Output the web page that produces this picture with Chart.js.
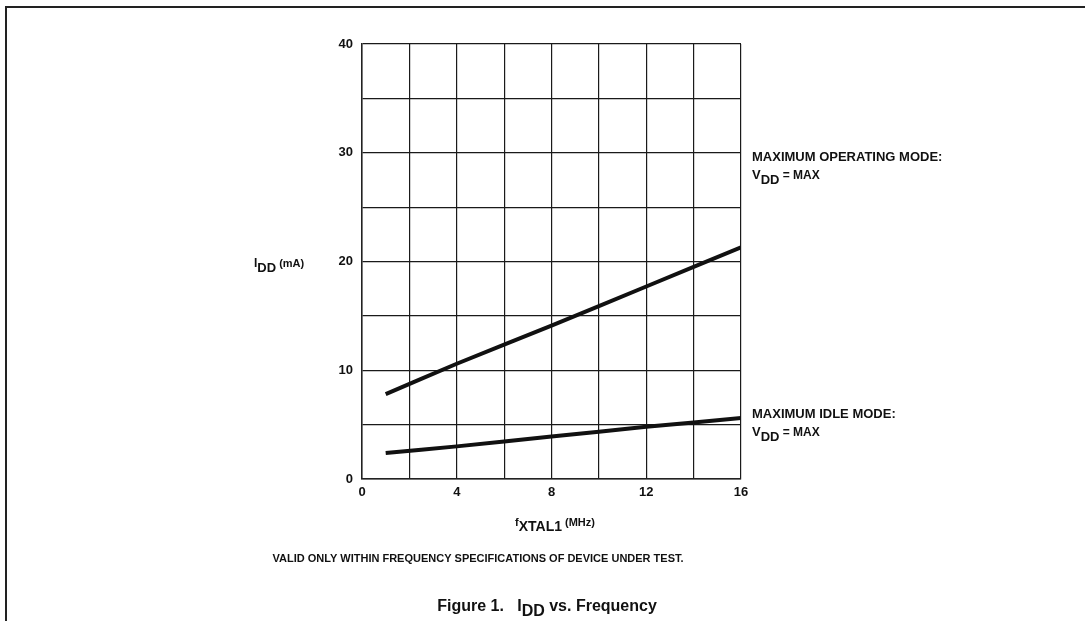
<!DOCTYPE html>
<html>
<head>
<meta charset="utf-8">
<title>IDD vs. Frequency</title>
<script src="https://cdn.jsdelivr.net/npm/chart.js@4.4.1/dist/chart.umd.min.js"></script>
<style>
  html, body { margin: 0; padding: 0; background: #fff; }
  #wrap { width: 1085px; height: 621px; position: relative; }
</style>
</head>
<body>
<div id="wrap"><canvas id="grafico"></canvas></div>
<script>
// datos (f en MHz, I en mA)
const frecuencias = [1, 4, 8, 12, 16];
const operacionMax = [7.8, 10.6, 14.1, 17.7, 21.3];
const reposoMax = [2.4, 3.0, 3.9, 4.8, 5.6];
const ticksX = [0, 4, 8, 12, 16];
const ticksY = [0, 10, 20, 30, 40];

const fuente = '"Liberation Sans", Arial, Helvetica, sans-serif';
const tinta = '#111';

function puntos(ys) {
    return frecuencias.map((x, i) => ({ x: x, y: ys[i] }));
}

// texto con subindice: partes = [[texto, sub?, size], ...]
function textoSub(ctx, partes, x, y, align) {
    let ancho = 0;
    partes.forEach(p => {
        ctx.font = 'bold ' + p[2] + 'px ' + fuente;
        ancho += ctx.measureText(p[0]).width;
    });
    let cx = align === 'center' ? x - ancho / 2 : x;
    ctx.textAlign = 'left';
    ctx.textBaseline = 'alphabetic';
    partes.forEach(p => {
        ctx.font = 'bold ' + p[2] + 'px ' + fuente;
        ctx.fillText(p[0], cx, y + (p[1] ? 5 : 0));
        cx += ctx.measureText(p[0]).width;
    });
}

const textos = {
    id: 'textos',
    afterDraw(chart) {
        const ctx = chart.ctx;
        const sx = chart.scales.x, sy = chart.scales.y;
        ctx.save();
        ctx.fillStyle = tinta;

        // marco de la pagina
        ctx.strokeStyle = '#222';
        ctx.lineWidth = 2;
        ctx.beginPath();
        ctx.moveTo(6, 621);
        ctx.lineTo(6, 7);
        ctx.lineTo(1085, 7);
        ctx.stroke();

        // etiquetas de las curvas
        const xa = sx.right + 11;
        textoSub(ctx, [['MAXIMUM OPERATING MODE:', false, 13]], xa, sy.getPixelForValue(29.2));
        textoSub(ctx, [['V', false, 13], ['DD', true, 13], [' = MAX', false, 12]], xa, sy.getPixelForValue(27.6));
        textoSub(ctx, [['MAXIMUM IDLE MODE:', false, 13]], xa, sy.getPixelForValue(5.6));
        textoSub(ctx, [['V', false, 13], ['DD', true, 13], [' = MAX', false, 12]], xa, sy.getPixelForValue(4.0));

        // titulos de ejes
        textoSub(ctx, [['I', false, 12], ['DD', true, 13], [' (mA)', false, 11]], 254, 267);
        textoSub(ctx, [['f', false, 11], ['XTAL1', true, 14], [' (MHz)', false, 11]], 555, 526, 'center');

        ctx.font = 'bold 11px ' + fuente;
        ctx.textAlign = 'center';
        ctx.fillText('VALID ONLY WITHIN FREQUENCY SPECIFICATIONS OF DEVICE UNDER TEST.', 478, 562);

        textoSub(ctx, [['Figure 1.   I', false, 16], ['DD', true, 16], [' vs. Frequency', false, 16]], 547, 611, 'center');
        ctx.restore();
    }
};

const ctx = document.getElementById('grafico').getContext('2d');
const graficoIdd = new Chart(ctx, {
    type: 'line',
    data: {
        datasets: [{
            label: 'Maximum operating mode',
            data: puntos(operacionMax),
            borderColor: tinta,
            borderWidth: 4,
            pointRadius: 0,
            tension: 0.2,
            fill: false
        }, {
            label: 'Maximum idle mode',
            data: puntos(reposoMax),
            borderColor: tinta,
            borderWidth: 4,
            pointRadius: 0,
            tension: 0.2,
            fill: false
        }]
    },
    options: {
        responsive: true,
        maintainAspectRatio: false,
        animation: false,
        events: [],
        layout: {
            padding: { left: 322, right: 344, top: 44, bottom: 0 }
        },
        plugins: {
            legend: { display: false },
            tooltip: { enabled: false }
        },
        scales: {
            x: {
                type: 'linear',
                min: 0,
                max: 16,
                afterFit: function(scale) { scale.height = 142; },
                border: { display: true, color: '#222', width: 1.5 },
                grid: { color: '#1a1a1a', lineWidth: 1.2, drawTicks: false },
                afterBuildTicks: function(scale) {
                    scale.ticks = [0, 2, 4, 6, 8, 10, 12, 14, 16].map(v => ({ value: v }));
                },
                ticks: {
                    color: tinta,
                    padding: 6,
                    maxRotation: 0,
                    autoSkip: false,
                    font: { family: fuente, size: 13, weight: 'bold' },
                    callback: function(v) { return ticksX.includes(v) ? String(v) : ''; }
                }
            },
            y: {
                type: 'linear',
                min: 0,
                max: 40,
                afterFit: function(scale) { scale.width = 40; },
                border: { display: true, color: '#222', width: 1.5 },
                grid: { color: '#1a1a1a', lineWidth: 1.2, drawTicks: false },
                afterBuildTicks: function(scale) {
                    scale.ticks = [0, 5, 10, 15, 20, 25, 30, 35, 40].map(v => ({ value: v }));
                },
                ticks: {
                    color: tinta,
                    padding: 9,
                    autoSkip: false,
                    font: { family: fuente, size: 13, weight: 'bold' },
                    callback: function(v) { return ticksY.includes(v) ? String(v) : ''; }
                }
            }
        }
    },
    plugins: [textos]
});
</script>
</body>
</html>
